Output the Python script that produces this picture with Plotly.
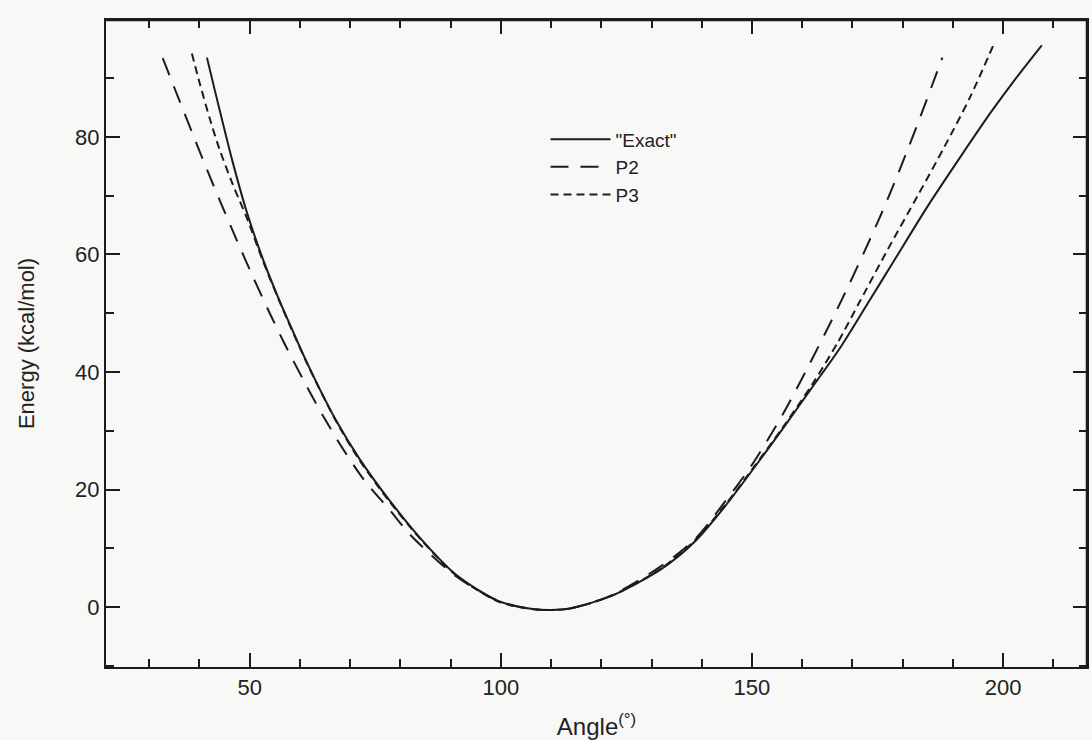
import plotly.graph_objects as go

# ---- data ----
exact_x = [41.5, 43.1, 44.6, 46.6, 49.4, 52.6, 56.0, 59.3, 61.3, 64.0, 67.3, 71.8, 77.8, 84.3,
           91.1, 99.6, 106.0, 110.0, 114.0, 122.0, 132.0, 138.7, 144.6, 150.0, 156.0, 162.0,
           167.7, 173.0, 178.4, 184.9, 191.5, 197.4, 202.2, 207.7]
exact_y = [93.5, 87.8, 82.6, 75.8, 67.3, 59.3, 52.0, 45.6, 41.8, 37.0, 31.6, 25.3, 18.2, 11.4,
           5.5, 1.0, -0.3, -0.5, -0.2, 1.9, 6.5, 11.2, 17.1, 23.2, 30.2, 37.4,
           44.3, 51.6, 59.1, 68.1, 76.6, 84.0, 89.6, 95.6]

p2_x = [32.7, 36.1, 39.5, 42.1, 44.0, 47.4, 50.6, 54.0, 56.9, 60.9, 64.5, 68.5, 72.8, 77.8,
        82.3, 91.0, 99.6, 106.0, 110.0, 114.0, 122.0, 132.0, 138.7, 144.6, 150.0, 156.0, 161.0,
        165.7, 169.4, 172.6, 175.6, 178.4, 181.3, 184.3, 187.9]
p2_y = [93.4, 86.0, 78.7, 73.2, 69.3, 62.5, 56.3, 50.0, 44.9, 38.3, 32.7, 27.0, 21.6, 16.6,
        12.0, 5.3, 1.0, -0.3, -0.5, -0.2, 2.0, 7.0, 11.6, 17.9, 24.2, 32.6, 40.6,
        48.5, 55.0, 60.9, 66.6, 72.3, 78.5, 85.2, 93.5]

p3_x = [38.5, 40.1, 42.1, 44.0, 46.6, 49.4, 52.6, 56.0, 61.3, 67.3, 71.8, 77.8, 84.3, 91.1,
        99.6, 106.0, 110.0, 114.0, 122.0, 132.0, 138.7, 144.6, 150.0, 156.0, 162.0, 167.0,
        171.6, 177.0, 183.0, 188.3, 193.5, 198.4]
p3_y = [94.2, 89.0, 83.0, 77.9, 72.0, 66.3, 59.0, 51.9, 41.7, 31.5, 25.1, 18.0, 11.3, 5.4,
        0.9, -0.3, -0.5, -0.2, 1.9, 6.6, 11.4, 17.3, 23.4, 30.4, 37.9, 44.9,
        52.2, 60.8, 70.0, 78.3, 86.9, 96.3]

series_names = ['"Exact"', "P2", "P3"]
x_ticks = [50, 100, 150, 200]
y_ticks = [0, 20, 40, 60, 80]

INK = "#1c1c1c"
BG = "#f8f8f7"
FONT = "Liberation Sans, Arial, Helvetica, sans-serif"

fig = go.Figure()
fig.add_trace(go.Scatter(x=exact_x, y=exact_y, mode="lines", name=series_names[0],
                         line=dict(color=INK, width=2, shape="spline", smoothing=0.8)))
fig.add_trace(go.Scatter(x=p2_x, y=p2_y, mode="lines", name=series_names[1],
                         line=dict(color=INK, width=2, dash="18px,12px", shape="spline", smoothing=0.8)))
fig.add_trace(go.Scatter(x=p3_x, y=p3_y, mode="lines", name=series_names[2],
                         line=dict(color=INK, width=2, dash="8px,5px", shape="spline", smoothing=0.8)))

axis_common = dict(
    showline=True, linecolor=INK, linewidth=2, mirror="ticks",
    ticks="inside", ticklen=14, tickwidth=2, tickcolor=INK,
    showgrid=False, zeroline=False,
    tickfont=dict(family=FONT, size=22, color="#222"),
    minor=dict(ticks="inside", ticklen=8, tickwidth=2, tickcolor=INK, dtick=10, showgrid=False),
)

fig.update_xaxes(range=[21.4, 216.7], tickvals=x_ticks, **axis_common,
                 title=dict(text="Angle<sup>(°)</sup>", font=dict(family=FONT, size=24, color="#222"),
                            standoff=20))
fig.update_yaxes(range=[-10.2, 99.9], tickvals=y_ticks, **axis_common,
                 title=dict(text="Energy (kcal/mol)", font=dict(family=FONT, size=22, color="#222"),
                            standoff=34))

# frame lines on top and right of the plotting area
fig.add_shape(type="line", xref="paper", yref="paper", x0=0, x1=1, y0=1, y1=1,
              line=dict(color=INK, width=2.5), layer="above")
fig.add_shape(type="line", xref="paper", yref="paper", x0=1, x1=1, y0=0, y1=1,
              line=dict(color=INK, width=2.5), layer="above")

fig.update_layout(
    width=1092, height=740,
    margin=dict(l=106, r=3, t=20, b=72),
    paper_bgcolor=BG, plot_bgcolor=BG,
    font=dict(family=FONT, color="#222"),
    showlegend=True,
    legend=dict(x=0.448, y=0.845, xanchor="left", yanchor="top",
                bgcolor="rgba(0,0,0,0)", font=dict(family=FONT, size=19, color="#222"),
                tracegroupgap=0, itemwidth=60),
)

fig.write_html("out.html")
